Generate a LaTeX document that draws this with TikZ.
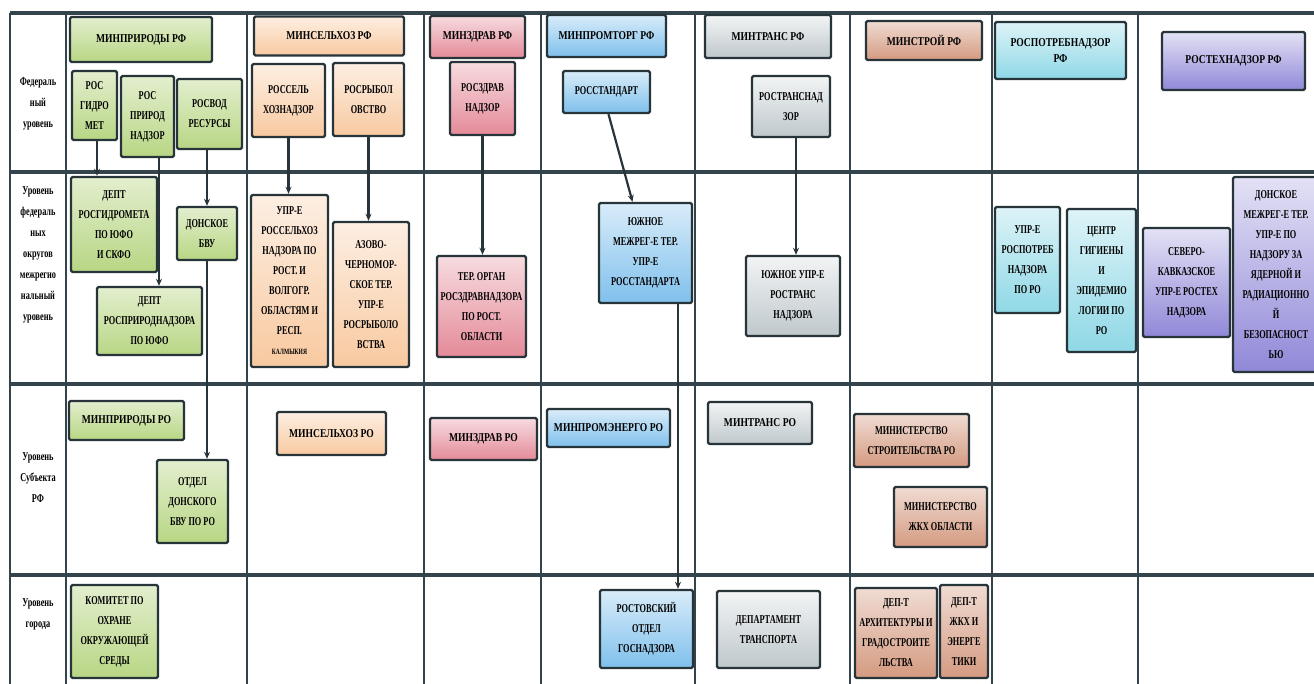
\documentclass[tikz,border=0pt]{standalone}
\usepackage{fontspec}
\setmainfont{Liberation Serif}
\newfontfamily\bxf[FakeStretch=0.69]{Liberation Serif}
\newfontfamily\hdf[FakeStretch=0.8]{Liberation Serif}
\usetikzlibrary{arrows.meta,calc}
\definecolor{gridc}{HTML}{33444C}
\definecolor{linec}{HTML}{27343A}
\definecolor{grn}{HTML}{B8D684}
\definecolor{org}{HTML}{F8C9A0}
\definecolor{pnk}{HTML}{E48A98}
\definecolor{blu}{HTML}{7FC0EC}
\definecolor{gry}{HTML}{BFC8CC}
\definecolor{brn}{HTML}{D49A80}
\definecolor{cyn}{HTML}{8FD8E6}
\definecolor{prp}{HTML}{9088D8}
\tikzset{
  hgrid/.style={draw=gridc, line width=3.5pt},
  vgrid/.style={draw=gridc, line width=2.4pt},
  box/.style={draw=linec, line width=2.4pt, rounded corners=1.5pt, align=center,
    inner sep=1pt, text=black, font=\bxf\bfseries\fontsize{12}{20}\selectfont},
  hbox/.style={box, font=\hdf\bfseries\fontsize{12}{16}\selectfont},
  sz/.style 2 args={minimum width=#1pt, minimum height=#2pt},
  gf/.style={top color=grn!40!white, bottom color=grn},
  of/.style={top color=org!30!white, bottom color=org},
  pf/.style={top color=pnk!30!white, bottom color=pnk},
  bf/.style={top color=blu!30!white, bottom color=blu},
  yf/.style={top color=gry!20!white, bottom color=gry},
  nf/.style={top color=brn!35!white, bottom color=brn},
  cf/.style={top color=cyn!30!white, bottom color=cyn},
  vf/.style={top color=prp!25!white, bottom color=prp},
  lab/.style={align=center, inner sep=0pt, text=black, font=\bxf\bfseries\fontsize{12}{21}\selectfont},
  conn/.style={draw=linec, line width=2.2pt, -{Stealth[length=7pt,width=6pt]}}
}
\begin{document}
\begin{tikzpicture}[x=1pt,y=-1pt]
\useasboundingbox (0,0) rectangle (1314,684);
% grid
\foreach \xx in {10,66,247,424,541,695,850,992,1138}
  \draw[vgrid] (\xx,13) -- (\xx,684);
\foreach \yy in {13,172,384,575}
  \draw[hgrid] (10,\yy) -- (1314,\yy);

% row labels
\node[lab] (l1) at (38,104) {Федераль\\ный\\уровень};
\node[lab] (l2) at (38,255) {Уровень\\федераль\\ных\\округов\\межрегио\\нальный\\уровень};
\node[lab] (l3) at (38,478) {Уровень\\Субъекта\\РФ};
\node[lab] (l4) at (38,614) {Уровень\\города};

% row 1
\node[hbox,gf,sz={142}{45}] (minprirf) at (141,39.5) {МИНПРИРОДЫ РФ};
\node[box,gf,sz={45}{69}] (rosgidromet) at (94.5,105.5) {РОС\\ГИДРО\\МЕТ};
\node[box,gf,sz={53}{81}] (rosprir) at (147.5,116.5) {РОС\\ПРИРОД\\НАДЗОР};
\node[box,gf,sz={65}{70}] (rosvod) at (209.5,114) {РОСВОД\\РЕСУРСЫ};
\node[hbox,of,sz={150}{39}] (minselrf) at (329,36) {МИНСЕЛЬХОЗ РФ};
\node[box,of,sz={73}{73}] (rosselhoz) at (288.5,100.5) {РОССЕЛЬ\\ХОЗНАДЗОР};
\node[box,of,sz={71}{73}] (rosryb) at (368.5,99.5) {РОСРЫБОЛ\\ОВСТВО};
\node[hbox,pf,sz={95}{42}] (minzdravrf) at (477.5,37) {МИНЗДРАВ РФ};
\node[box,pf,sz={65}{73}] (roszdrav) at (482.5,98.5) {РОСЗДРАВ\\НАДЗОР};
\node[hbox,bf,sz={119}{42}] (minpromrf) at (606.5,36) {МИНПРОМТОРГ РФ};
\node[box,bf,sz={87}{42}] (rosstand) at (606.5,92) {РОССТАНДАРТ};
\node[hbox,yf,sz={126}{43}] (mintransrf) at (768,36.5) {МИНТРАНС РФ};
\node[box,yf,sz={78}{61}] (rostrans) at (791,106.5) {РОСТРАНСНАД\\ЗОР};
\node[hbox,nf,sz={116}{39}] (minstroyrf) at (924,40.5) {МИНСТРОЙ РФ};
\node[hbox,cf,sz={131}{57}] (rospotrebrf) at (1060.5,50.5) {РОСПОТРЕБНАДЗОР\\РФ};
\node[hbox,vf,sz={143}{58}] (rostehrf) at (1233.5,61) {РОСТЕХНАДЗОР РФ};

% row 2
\node[box,gf,sz={86}{95}] (deptgidro) at (114,224.5) {ДЕПТ\\РОСГИДРОМЕТА\\ПО ЮФО\\И СКФО};
\node[box,gf,sz={105}{68}] (deptprir) at (149.5,321) {ДЕПТ\\РОСПРИРОДНАДЗОРА\\ПО ЮФО};
\node[box,gf,sz={60}{53}] (donbvu) at (207,233.5) {ДОНСКОЕ\\БВУ};
\node[box,of,sz={77}{172}] (uprselhoz) at (289.5,281) {УПР-Е\\РОССЕЛЬХОЗ\\НАДЗОРА ПО\\РОСТ. И\\ВОЛГОГР.\\ОБЛАСТЯМ И\\РЕСП.\\{\fontsize{8}{12}\selectfont КАЛМЫКИЯ}};
\node[box,of,sz={76}{145}] (azovo) at (371,294.5) {АЗОВО-\\ЧЕРНОМОР-\\СКОЕ ТЕР.\\УПР-Е\\РОСРЫБОЛО\\ВСТВА};
\node[box,pf,sz={89}{101}] (terorgan) at (481.5,306.5) {ТЕР. ОРГАН\\РОСЗДРАВНАДЗОРА\\ПО РОСТ.\\ОБЛАСТИ};
\node[box,bf,sz={93}{100}] (yuzhmezh) at (645.5,253) {ЮЖНОЕ\\МЕЖРЕГ-Е ТЕР.\\УПР-Е\\РОССТАНДАРТА};
\node[box,yf,sz={94}{80}] (yuzhupr) at (793,296) {ЮЖНОЕ УПР-Е\\РОСТРАНС\\НАДЗОРА};
\node[box,cf,sz={65}{106}] (uprpotreb) at (1027.5,260) {УПР-Е\\РОСПОТРЕБ\\НАДЗОРА\\ПО РО};
\node[box,cf,sz={69}{143}] (centr) at (1101.5,280.5) {ЦЕНТР\\ГИГИЕНЫ\\И\\ЭПИДЕМИО\\ЛОГИИ ПО\\РО};
\node[box,vf,sz={87}{109}] (sevkav) at (1186.5,282.5) {СЕВЕРО-\\КАВКАЗСКОЕ\\УПР-Е РОСТЕХ\\НАДЗОРА};
\node[box,vf,sz={86}{195}] (donmezh) at (1276,274.5) {ДОНСКОЕ\\МЕЖРЕГ-Е ТЕР.\\УПР-Е ПО\\НАДЗОРУ ЗА\\ЯДЕРНОЙ И\\РАДИАЦИОННО\\Й\\БЕЗОПАСНОСТ\\ЬЮ};

% row 3
\node[hbox,gf,sz={115}{39}] (minprirro) at (126.5,420.5) {МИНПРИРОДЫ РО};
\node[box,gf,sz={71}{83}] (otdel) at (192.5,501.5) {ОТДЕЛ\\ДОНСКОГО\\БВУ ПО РО};
\node[hbox,of,sz={109}{43}] (minselro) at (331.5,433.5) {МИНСЕЛЬХОЗ РО};
\node[hbox,pf,sz={107}{42}] (minzdravro) at (483.5,439) {МИНЗДРАВ РО};
\node[hbox,bf,sz={123}{38}] (minpromro) at (608.5,428) {МИНПРОМЭНЕРГО РО};
\node[hbox,yf,sz={104}{42}] (mintransro) at (760,423) {МИНТРАНС РО};
\node[box,nf,sz={115}{53}] (minstroyro) at (911.5,440.5) {МИНИСТЕРСТВО\\СТРОИТЕЛЬСТВА РО};
\node[box,nf,sz={93}{60}] (minzhkh) at (940.5,517) {МИНИСТЕРСТВО\\ЖКХ ОБЛАСТИ};

% row 4
\node[box,gf,sz={87}{93}] (komitet) at (114.5,631.5) {КОМИТЕТ ПО\\ОХРАНЕ\\ОКРУЖАЮЩЕЙ\\СРЕДЫ};
\node[box,bf,sz={93}{78}] (rostotdel) at (646.5,629) {РОСТОВСКИЙ\\ОТДЕЛ\\ГОСНАДЗОРА};
\node[box,yf,sz={103}{77}] (deptrans) at (768.5,629.5) {ДЕПАРТАМЕНТ\\ТРАНСПОРТА};
\node[box,nf,sz={82}{90}] (deparh) at (896,633) {ДЕП-Т\\АРХИТЕКТУРЫ И\\ГРАДОСТРОИТЕ\\ЛЬСТВА};
\node[box,nf,sz={48}{93}] (depzhkh) at (964,631.5) {ДЕП-Т\\ЖКХ И\\ЭНЕРГЕ\\ТИКИ};

% connectors
\draw[conn] ($(rosgidromet.south)+(2.5,0)$) coordinate (c1) -- (c1 |- deptgidro.north);
\draw[conn] ($(rosprir.south)+(11.5,0)$) coordinate (c2) -- (c2 |- deptprir.north);
\draw[conn] (donbvu.north |- rosvod.south) -- (donbvu.north);
\draw[conn] (donbvu.south) -- (donbvu.south |- otdel.north);
\draw[conn] (rosselhoz.south) -- (rosselhoz.south |- uprselhoz.north);
\draw[conn] (rosryb.south) -- (rosryb.south |- azovo.north);
\draw[conn] (roszdrav.south) -- (roszdrav.south |- terorgan.north);
\draw[conn] ($(rosstand.south)+(2,0)$) -- ($(yuzhmezh.north)+(-13,0)$);
\draw[conn] ($(yuzhmezh.south)+(32.5,0)$) coordinate (c9) -- (c9 |- rostotdel.north);
\draw[conn] ($(rostrans.south)+(5,0)$) coordinate (c10) -- (c10 |- yuzhupr.north);
\end{tikzpicture}
\end{document}
